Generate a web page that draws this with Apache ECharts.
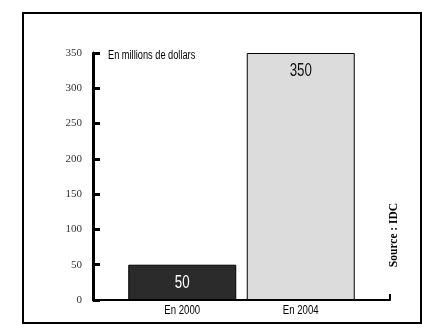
<!DOCTYPE html>
<html><head><meta charset="utf-8">
<script src="https://cdn.jsdelivr.net/npm/echarts@6/dist/echarts.min.js"></script>
<style>html,body{margin:0;padding:0;background:#fff}#c{width:430px;height:333px}</style>
</head><body><div id="c"></div>
<script>
const categories = ['En 2000', 'En 2004'];
const values = [50, 350];
const barColors = ['#2b2b2b', '#dcdcdc'];
const labelColors = ['#ffffff', '#111111'];
const yMin = 0, yMax = 350, yStep = 50;
const unitText = 'En millions de dollars';
const sourceText = 'Source : IDC';

const sans = "'Liberation Sans', Arial, sans-serif";
const serif = "'Liberation Serif', 'DejaVu Serif', serif";

const chart = echarts.init(document.getElementById('c'), null, {renderer: 'canvas'});
chart.setOption({
  animation: false,
  backgroundColor: '#fff',
  grid: [
    {left: 93, right: 40, top: 53, bottom: 33},
    {left: 123, right: 70, top: 53, bottom: 33}
  ],
  xAxis: [
    {gridIndex: 0, type: 'value', min: 0, max: 1, interval: 1,
     axisLine: {show: true, lineStyle: {color: '#000', width: 2}},
     axisTick: {show: true, inside: true, length: 6, lineStyle: {color: '#000', width: 2}},
     axisLabel: {show: false}, splitLine: {show: false}},
    {gridIndex: 1, type: 'category', data: categories,
     axisLine: {show: false}, axisTick: {show: false},
     axisLabel: {show: false}}
  ],
  yAxis: [
    {gridIndex: 0, type: 'value', min: yMin, max: yMax, interval: yStep,
     axisLine: {show: true, lineStyle: {color: '#000', width: 3}},
     axisTick: {show: true, inside: true, length: 7, lineStyle: {color: '#000', width: 3}},
     axisLabel: {color: '#333', fontFamily: serif, fontSize: 11, margin: 11},
     splitLine: {show: false}},
    {gridIndex: 1, type: 'value', min: yMin, max: yMax, interval: yStep, show: false}
  ],
  series: [{
    type: 'bar', xAxisIndex: 1, yAxisIndex: 1, z: 2,
    barWidth: 108,
    data: values.map((v, i) => ({
      value: v,
      itemStyle: {color: barColors[i], borderColor: '#000', borderWidth: 1}
    }))
  }, {
    type: 'custom', xAxisIndex: 1, yAxisIndex: 1, z: 10,
    data: values.map((v, i) => [i, v]),
    renderItem: function (params, api) {
      const i = params.dataIndex;
      const top = api.coord([i, api.value(1)]);
      const base = api.coord([i, 0]);
      return {type: 'group', children: [
        {type: 'text', x: top[0], y: top[1] + 9, scaleX: 0.74, z2: 10,
         style: {text: String(values[i]), fill: labelColors[i], font: "18px " + sans,
           align: 'center', verticalAlign: 'top'}},
        {type: 'text', x: base[0], y: base[1] + 5, scaleX: 0.8,
         style: {text: categories[i], fill: '#000', font: "12px " + sans,
           align: 'center', verticalAlign: 'top'}}
      ]};
    }
  }],
  graphic: [
    {type: 'rect', shape: {x: 23, y: 13, width: 398, height: 310},
     style: {fill: 'none', stroke: '#000', lineWidth: 2}, silent: true},
    {type: 'text', x: 108, y: 50, scaleX: 0.77,
     style: {text: unitText, fill: '#000', font: "12px " + sans, verticalAlign: 'top'}},
    {type: 'text', x: 394, y: 235, rotation: Math.PI / 2,
     style: {text: sourceText, fill: '#000', font: "bold 11.5px " + serif,
       align: 'center', verticalAlign: 'middle'}}
  ]
});
</script></body></html>
